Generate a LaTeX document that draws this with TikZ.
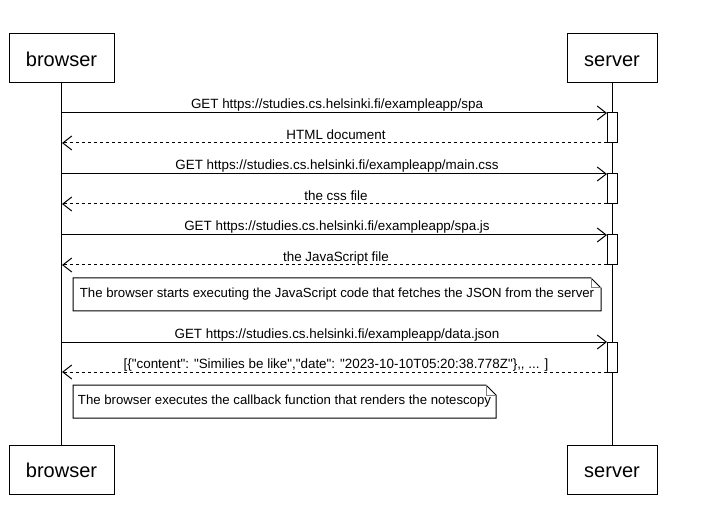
\documentclass[tikz,border=0pt]{standalone}
\usepackage{fontspec}
\setmainfont{Liberation Sans}[Ligatures=TeXOff]
\usetikzlibrary{arrows.meta,calc}
\begin{document}
\begin{tikzpicture}[x=1pt,y=-1pt,
  actor/.style={draw,line width=1pt,minimum height=49pt,inner sep=0pt,text height=18pt,text depth=2pt,font=\fontsize{20}{24}\selectfont},
  bar/.style={draw,line width=1pt,minimum width=10pt,minimum height=30pt,inner sep=0pt,outer sep=0pt,fill=white},
  msg/.style={line width=1pt,-{Straight Barb[length=9pt,width=14pt,line width=1pt]}},
  ret/.style={msg,dash pattern=on 3pt off 3pt},
  lbl/.style={font=\fontsize{13.4}{15}\selectfont,anchor=base,inner sep=0pt},
  notebox/.style={minimum height=33pt,inner sep=0pt,outer sep=0pt,font=\fontsize{13.2}{15}\selectfont},
  life/.style={line width=1pt}
]
\useasboundingbox[fill=white] (0,0) rectangle (710,505);
% actors
\node[actor,minimum width=105pt] (bt) at (61.5,58.5) {browser};
\node[actor,minimum width=90pt] (st) at (612,58.5) {server};
\node[actor,minimum width=105pt] (bb) at (61.5,469.5) {browser};
\node[actor,minimum width=90pt] (sb) at (612,469.5) {server};
% lifelines
\draw[life] (bt.south) -- (bb.north);
\draw[life] (st.south) -- (sb.north);
% activation bars
\node[bar] (a1) at (612,128) {};
\node[bar] (a2) at (612,189) {};
\node[bar] (a3) at (612,250) {};
\node[bar] (a4) at (612,357) {};
% lifeline points
\coordinate (m1) at (62,113);
\coordinate (r1) at (62,143);
\coordinate (m2) at (62,174);
\coordinate (r2) at (62,204);
\coordinate (m3) at (62,235);
\coordinate (r3) at (62,265);
\coordinate (m4) at (62,342);
\coordinate (r4) at (62,372);
% messages
\draw[msg] (m1) -- (a1.north west);
\node[lbl] at (337,109) {GET https://studies.cs.helsinki.fi/exampleapp/spa};
\draw[ret] (a1.south west) -- (r1);
\node[lbl] at (336,139.5) {HTML document};
\draw[msg] (m2) -- (a2.north west);
\node[lbl] at (337,170) {GET https://studies.cs.helsinki.fi/exampleapp/main.css};
\draw[ret] (a2.south west) -- (r2);
\node[lbl] at (336,200.5) {the css file};
\draw[msg] (m3) -- (a3.north west);
\node[lbl] at (337,231) {GET https://studies.cs.helsinki.fi/exampleapp/spa.js};
\draw[ret] (a3.south west) -- (r3);
\node[lbl] at (336,261.5) {the JavaScript file};
\draw[msg] (m4) -- (a4.north west);
\node[lbl] at (337,338) {GET https://studies.cs.helsinki.fi/exampleapp/data.json};
\draw[ret] (a4.south west) -- (r4);
\node[lbl] at (336,368.5) {[\{"content": "Similies be like","date": "2023-10-10T05:20:38.778Z"\},, ... ]};
% notes
\node[notebox,minimum width=528pt] (n1) at (337,294.5) {The browser starts executing the JavaScript code that fetches the JSON from the server};
\draw[line width=1pt] (n1.north west) -- ($(n1.north east)+(-10,0)$) -- ($(n1.north east)+(0,10)$) -- (n1.south east) -- (n1.south west) -- cycle;
\draw[line width=1pt,gray] ($(n1.north east)+(-10,0)$) -- ($(n1.north east)+(-10,10)$) -- ($(n1.north east)+(0,10)$);
\node[notebox,minimum width=423pt] (n2) at (284.5,401.5) {The browser executes the callback function that renders the notescopy};
\draw[line width=1pt] (n2.north west) -- ($(n2.north east)+(-10,0)$) -- ($(n2.north east)+(0,10)$) -- (n2.south east) -- (n2.south west) -- cycle;
\draw[line width=1pt,gray] ($(n2.north east)+(-10,0)$) -- ($(n2.north east)+(-10,10)$) -- ($(n2.north east)+(0,10)$);
\end{tikzpicture}
\end{document}
